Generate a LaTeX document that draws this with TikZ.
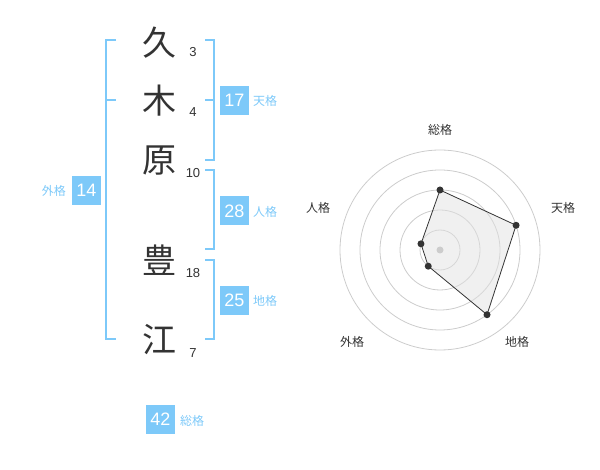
\documentclass[tikz,border=0pt]{standalone}
\usepackage{fontspec}
\setmainfont{Liberation Sans}
\newfontfamily\cjk{Noto Sans CJK JP}
\definecolor{kakublue}{RGB}{125,201,249}
\definecolor{inkgray}{RGB}{51,51,51}
\definecolor{ringgray}{RGB}{204,204,204}
\definecolor{areagray}{RGB}{225,225,225}
\begin{document}
\begin{tikzpicture}[x=1pt,y=-1pt,
  kanji/.style={text=inkgray,font=\cjk\fontsize{34}{34}\selectfont,inner sep=0pt},
  stroke/.style={text=inkgray,font=\fontsize{13}{13}\selectfont,inner sep=0pt},
  kakubox/.style={fill=kakublue,text=white,minimum size=29pt,inner sep=0pt,font=\fontsize{18}{18}\selectfont},
  kakuname/.style={text=kakublue,font=\cjk\fontsize{12}{12}\selectfont,inner sep=0pt},
  bracket/.style={draw=kakublue,line width=2pt},
  axisname/.style={text=inkgray,font=\cjk\fontsize{12}{12}\selectfont,inner sep=0pt},
  ring/.style={draw=ringgray,line width=0.8pt},
  dot/.style={circle,fill=inkgray,inner sep=0pt,minimum size=7pt}]
\useasboundingbox (0,0) rectangle (600,470);

% name characters and stroke counts
\node[kanji] (k1) at (159,43) {久};
\node[kanji] (k2) at (159,101) {木};
\node[kanji] (k3) at (159,161) {原};
\node[kanji] (k4) at (159,260) {豊};
\node[kanji] (k5) at (159,340) {江};
\node[stroke] (n1) at (193,52) {3};
\node[stroke] (n2) at (193,112) {4};
\node[stroke] (n3) at (193,173) {10};
\node[stroke] (n4) at (193,273) {18};
\node[stroke] (n5) at (193,353) {7};

% brackets
\path[bracket] (116,40) -- (105.5,40) -- (105.5,339) -- (116,339) (105.5,100) -- (116,100);
\path[bracket] (205,40) -- (214,40) -- (214,160) -- (205,160) (214,100) -- (205,100);
\path[bracket] (205,170) -- (214,170) -- (214,249) -- (205,249);
\path[bracket] (205,260) -- (214,260) -- (214,339) -- (205,339);

% results
\node[kakubox] (ten) at (234.5,100.5) {17};
\node[kakuname,anchor=west] (tenL) at (253,101) {天格};
\node[kakubox] (jin) at (234.5,211) {28};
\node[kakuname,anchor=west] (jinL) at (253,212) {人格};
\node[kakubox] (chi) at (234.5,300.5) {25};
\node[kakuname,anchor=west] (chiL) at (253,301) {地格};
\node[kakubox] (gai) at (86.5,190.5) {14};
\node[kakuname,anchor=east] (gaiL) at (66,191) {外格};
\node[kakubox] (sou) at (160.5,419) {42};
\node[kakuname,anchor=west] (souL) at (180,421) {総格};

% radar chart (y points down, so angles run clockwise)
\begin{scope}[shift={(440,250)}]
  \foreach \r in {20,40,...,100}
    \path[ring] (0,0) circle (\r);
  \coordinate (rS) at (-90:60);
  \coordinate (rT) at (-18:80);
  \coordinate (rC) at (54:80);
  \coordinate (rG) at (126:20);
  \coordinate (rJ) at (198:20);
  \filldraw[fill=areagray,fill opacity=0.5,draw=inkgray,line width=0.8pt]
    (rS) -- (rT) -- (rC) -- (rG) -- (rJ) -- cycle;
  \fill[ringgray] (0,0) circle (3.5);
  \foreach \p in {rS,rT,rC,rG,rJ}
    \node[dot] at (\p) {};
\end{scope}
\node[axisname] (aS) at (440,130) {総格};
\node[axisname] (aT) at (563,208) {天格};
\node[axisname] (aC) at (517,342) {地格};
\node[axisname] (aG) at (352,342) {外格};
\node[axisname] (aJ) at (318,208) {人格};
\end{tikzpicture}
\end{document}
